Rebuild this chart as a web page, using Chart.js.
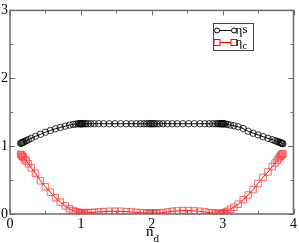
<!DOCTYPE html>
<html>
<head>
<meta charset="utf-8">
<script src="https://cdn.jsdelivr.net/npm/chart.js@4/dist/chart.umd.min.js"></script>
<style>
  body { margin: 0; background: #fff; }
  canvas { display: block; }
</style>
</head>
<body>
<canvas id="chart" width="299" height="243"></canvas>
<script>
// x values (n_d)
let nd = [0.15, 0.16, 0.17, 0.18, 0.19, 0.21, 0.23, 0.26, 0.30, 0.36, 0.43, 0.50, 0.57, 0.64, 0.71, 0.78, 0.84, 0.89, 0.93, 0.96, 0.98, 0.99,
  1.00, 1.01, 1.02, 1.03, 1.05, 1.07, 1.10, 1.14, 1.19, 1.25, 1.32, 1.40, 1.48, 1.56, 1.64, 1.71, 1.78, 1.84, 1.89, 1.93, 1.96, 1.98, 2.00,
  2.02, 2.04, 2.07, 2.11, 2.16, 2.22, 2.29, 2.36, 2.44, 2.52, 2.60, 2.68, 2.75, 2.81, 2.86, 2.90, 2.93, 2.95, 2.97, 2.98, 2.99, 3.00,
  3.01, 3.02, 3.04, 3.07, 3.11, 3.16, 3.22, 3.29, 3.36, 3.43, 3.50, 3.57, 3.64, 3.70, 3.74, 3.77, 3.79, 3.81, 3.82, 3.83, 3.84, 3.85];

// eta_s (black circles)
let etaS = [1.04, 1.045, 1.05, 1.055, 1.06, 1.07, 1.08, 1.095, 1.115, 1.145, 1.175, 1.205, 1.23, 1.255, 1.275, 1.295, 1.31, 1.32, 1.325, 1.33, 1.33, 1.33,
  1.33, 1.33, 1.33, 1.33, 1.33, 1.33, 1.33, 1.33, 1.33, 1.33, 1.33, 1.33, 1.33, 1.33, 1.33, 1.33, 1.33, 1.33, 1.33, 1.33, 1.33, 1.33, 1.33,
  1.33, 1.33, 1.33, 1.33, 1.33, 1.33, 1.33, 1.33, 1.33, 1.33, 1.33, 1.33, 1.33, 1.33, 1.33, 1.33, 1.33, 1.33, 1.33, 1.33, 1.33, 1.33,
  1.33, 1.33, 1.325, 1.32, 1.31, 1.30, 1.285, 1.26, 1.22, 1.19, 1.165, 1.14, 1.115, 1.095, 1.08, 1.07, 1.06, 1.055, 1.05, 1.045, 1.04, 1.035];

// eta_c (red squares)
let etaC = [0.88, 0.87, 0.855, 0.845, 0.83, 0.80, 0.78, 0.74, 0.68, 0.60, 0.49, 0.40, 0.32, 0.24, 0.175, 0.12, 0.075, 0.05, 0.035, 0.025, 0.02, 0.015,
  0.015, 0.015, 0.015, 0.015, 0.015, 0.02, 0.02, 0.02, 0.025, 0.03, 0.035, 0.04, 0.04, 0.04, 0.035, 0.03, 0.025, 0.02, 0.015, 0.015, 0.01, 0.01, 0.01,
  0.01, 0.01, 0.015, 0.015, 0.02, 0.03, 0.04, 0.045, 0.05, 0.05, 0.045, 0.04, 0.03, 0.02, 0.015, 0.01, 0.01, 0.005, 0.005, 0.005, 0.005, 0.005,
  0.01, 0.015, 0.025, 0.04, 0.07, 0.10, 0.145, 0.21, 0.28, 0.36, 0.45, 0.54, 0.62, 0.70, 0.75, 0.79, 0.82, 0.845, 0.855, 0.87, 0.88, 0.89];

let xTicks = [0, 1, 2, 3, 4];
let yTicks = [0, 1, 2, 3];
let xMinor = [0.5, 1.5, 2.5, 3.5];
let yMinor = [0.5, 1.5, 2.5];

let serif = "'Liberation Serif', 'DejaVu Serif', serif";
let frameColor = "#6a6a6a";

// рамка, засечки внутрь, подпись оси и легенда
let decorPlugin = {
  id: "decor",
  afterDraw(chart) {
    let ctx = chart.ctx;
    let area = chart.chartArea;
    let xs = chart.scales.x;
    let ys = chart.scales.y;
    ctx.save();
    ctx.strokeStyle = frameColor;
    ctx.lineWidth = 1.5;
    ctx.strokeRect(area.left, area.top, area.right - area.left, area.bottom - area.top);

    ctx.lineWidth = 1;
    function xTick(v, len) {
      let px = Math.round(xs.getPixelForValue(v)) + 0.5;
      ctx.beginPath();
      ctx.moveTo(px, area.bottom); ctx.lineTo(px, area.bottom - len);
      ctx.moveTo(px, area.top); ctx.lineTo(px, area.top + len);
      ctx.stroke();
    }
    function yTick(v, len) {
      let py = Math.round(ys.getPixelForValue(v)) + 0.5;
      ctx.beginPath();
      ctx.moveTo(area.left, py); ctx.lineTo(area.left + len, py);
      ctx.moveTo(area.right, py); ctx.lineTo(area.right - len, py);
      ctx.stroke();
    }
    xTicks.forEach(v => xTick(v, 5));
    xMinor.forEach(v => xTick(v, 3));
    yTicks.forEach(v => yTick(v, 5));
    yMinor.forEach(v => yTick(v, 3));

    // подпись оси x: n_d
    ctx.fillStyle = "#000";
    ctx.textBaseline = "alphabetic";
    ctx.textAlign = "left";
    ctx.font = "15px " + serif;
    ctx.fillText("n", 146, 236);
    ctx.font = "11px " + serif;
    ctx.fillText("d", 153.5, 242);

    // легенда
    ctx.strokeStyle = "#444";
    ctx.lineWidth = 1;
    ctx.strokeRect(213.5, 23.5, 40, 27);

    ctx.strokeStyle = "#000";
    ctx.beginPath();
    ctx.moveTo(217, 30.5); ctx.lineTo(234, 30.5);
    ctx.stroke();
    [217, 234].forEach(cx => {
      ctx.beginPath();
      ctx.arc(cx, 30.5, 2.5, 0, Math.PI * 2);
      ctx.fillStyle = "#fff";
      ctx.fill();
      ctx.stroke();
    });

    ctx.strokeStyle = "#ff0000";
    ctx.beginPath();
    ctx.moveTo(217, 42.5); ctx.lineTo(234, 42.5);
    ctx.stroke();
    [217, 234].forEach(cx => {
      ctx.fillStyle = "#fff";
      ctx.fillRect(cx - 3, 39.5, 6, 6);
      ctx.strokeRect(cx - 3, 39.5, 6, 6);
    });

    ctx.fillStyle = "#000";
    ctx.font = "13px " + serif;
    ctx.fillText("η", 235.5, 34);
    ctx.fillText("s", 242.5, 33);
    ctx.fillText("η", 235.5, 46);
    ctx.font = "10px " + serif;
    ctx.fillText("c", 242.5, 49);
    ctx.restore();
  }
};

function toPoints(ys) {
  let pts = [];
  for (let i = 0; i < nd.length; i++) {
    pts.push({ x: nd[i], y: ys[i] });
  }
  return pts;
}

let ctx = document.getElementById("chart").getContext("2d");
new Chart(ctx, {
  type: "line",
  data: {
    datasets: [
      {
        label: "ηs",
        data: toPoints(etaS),
        borderColor: "#000",
        borderWidth: 1,
        pointStyle: "circle",
        pointRadius: 3.2,
        pointBorderWidth: 0.8,
        pointBorderColor: "#000",
        pointBackgroundColor: "rgba(0,0,0,0)",
        tension: 0,
      },
      {
        label: "ηc",
        data: toPoints(etaC),
        borderColor: "#ff0000",
        borderWidth: 1,
        pointStyle: "rect",
        pointRadius: 4.6,
        pointBorderWidth: 0.8,
        pointBorderColor: "#ff4040",
        pointBackgroundColor: "rgba(0,0,0,0)",
        tension: 0,
      },
    ],
  },
  options: {
    responsive: false,
    animation: false,
    devicePixelRatio: 1,
    layout: { padding: { top: 5, right: 4, left: 0, bottom: 0 } },
    plugins: {
      legend: { display: false },
      tooltip: { enabled: false },
    },
    scales: {
      x: {
        type: "linear",
        min: 0,
        max: 4,
        grid: { display: false, drawTicks: false },
        border: { display: false },
        ticks: {
          stepSize: 1,
          padding: 2,
          color: "#000",
          font: { family: serif, size: 14 },
          maxRotation: 0,
        },
        afterFit(scale) { scale.height = 29; },
      },
      y: {
        min: 0,
        max: 3,
        grid: { display: false, drawTicks: false },
        border: { display: false },
        ticks: {
          stepSize: 1,
          padding: 2,
          color: "#000",
          font: { family: serif, size: 14 },
        },
        afterFit(scale) { scale.width = 10; },
      },
    },
  },
  plugins: [decorPlugin],
});
</script>
</body>
</html>
